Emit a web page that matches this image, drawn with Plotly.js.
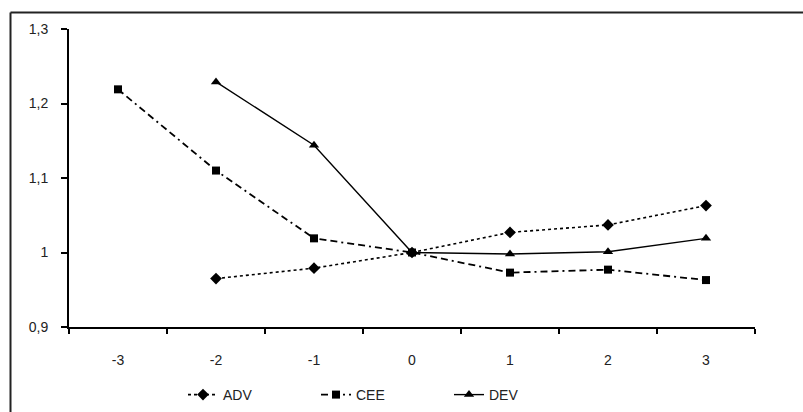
<!DOCTYPE html>
<html><head><meta charset="utf-8">
<script src="https://cdn.plot.ly/plotly-3.0.1.min.js"></script>
<style>body{margin:0;background:#fff}#c{width:803px;height:412px}</style>
</head><body><div id="c"></div>
<script>
var categories = ['-3','-2','-1','0','1','2','3'];
var adv = [null, 0.965, 0.979, 1.0, 1.027, 1.037, 1.063];
var cee = [1.219, 1.110, 1.019, 1.0, 0.973, 0.977, 0.963];
var dev = [null, 1.229, 1.144, 1.0, 0.998, 1.001, 1.019];
var yTickVals = [0.9, 1.0, 1.1, 1.2, 1.3];
var yTickText = ['0,9', '1', '1,1', '1,2', '1,3'];

var traces = [
  {x: categories, y: adv, name: 'ADV', type: 'scatter', mode: 'lines+markers',
   line: {color: '#000', width: 1.6, dash: 'dot'}, marker: {symbol: 'diamond', size: 9, color: '#000'}},
  {x: categories, y: cee, name: 'CEE', type: 'scatter', mode: 'lines+markers',
   line: {color: '#000', width: 1.8, dash: '7px,4px,7px,4px,2px,4px'}, marker: {symbol: 'square', size: 8, color: '#000'}},
  {x: categories, y: dev, name: 'DEV', type: 'scatter', mode: 'lines+markers',
   line: {color: '#000', width: 1.4}, marker: {symbol: 'triangle-up', size: 9, color: '#000'}}
];
var L = 69, R = 755, T = 29, B = 327;
var W = R - L, H = B - T;
var layout = {
  width: 803, height: 412,
  margin: {l: L, r: 803 - R, t: T, b: 412 - B, autoexpand: false},
  paper_bgcolor: '#fff', plot_bgcolor: '#fff',
  font: {family: 'Liberation Sans, Arial, sans-serif', size: 14, color: '#222'},
  showlegend: true,
  legend: {orientation: 'h', x: (183 - L) / W, xanchor: 'left', y: (B - 395) / H, yanchor: 'middle',
           font: {size: 14, color: '#222'}, entrywidth: 88, entrywidthmode: 'pixels', tracegroupgap: 0},
  xaxis: {type: 'category', categoryorder: 'array', categoryarray: categories,
          range: [-0.5, 6.5], showline: true, linecolor: '#000', linewidth: 2,
          ticks: 'outside', tickson: 'boundaries', ticklen: 5, tickwidth: 2, tickcolor: '#000',
          showgrid: false, zeroline: false, fixedrange: true, ticklabelstandoff: 19,
          tickfont: {size: 14, color: '#222'}},
  yaxis: {range: [0.9, 1.3], tickvals: yTickVals, ticktext: yTickText,
          showline: true, linecolor: '#000', linewidth: 2, ticks: 'outside', ticklen: 6, tickwidth: 2, tickcolor: '#000',
          showgrid: false, zeroline: false, fixedrange: true, ticklabelstandoff: 10,
          tickfont: {size: 14, color: '#222'}},
  shapes: [
    {type: 'line', xref: 'paper', yref: 'paper', x0: (10.5 - L) / W, x1: (803 - L) / W,
     y0: (B - 12.5) / H, y1: (B - 12.5) / H, line: {color: '#222', width: 2}, layer: 'below'},
    {type: 'line', xref: 'paper', yref: 'paper', x0: (10.5 - L) / W, x1: (10.5 - L) / W,
     y0: (B - 12.5) / H, y1: (B - 412) / H, line: {color: '#222', width: 2}, layer: 'below'}
  ]
};
Plotly.newPlot('c', traces, layout, {staticPlot: true, displayModeBar: false});
</script></body></html>
